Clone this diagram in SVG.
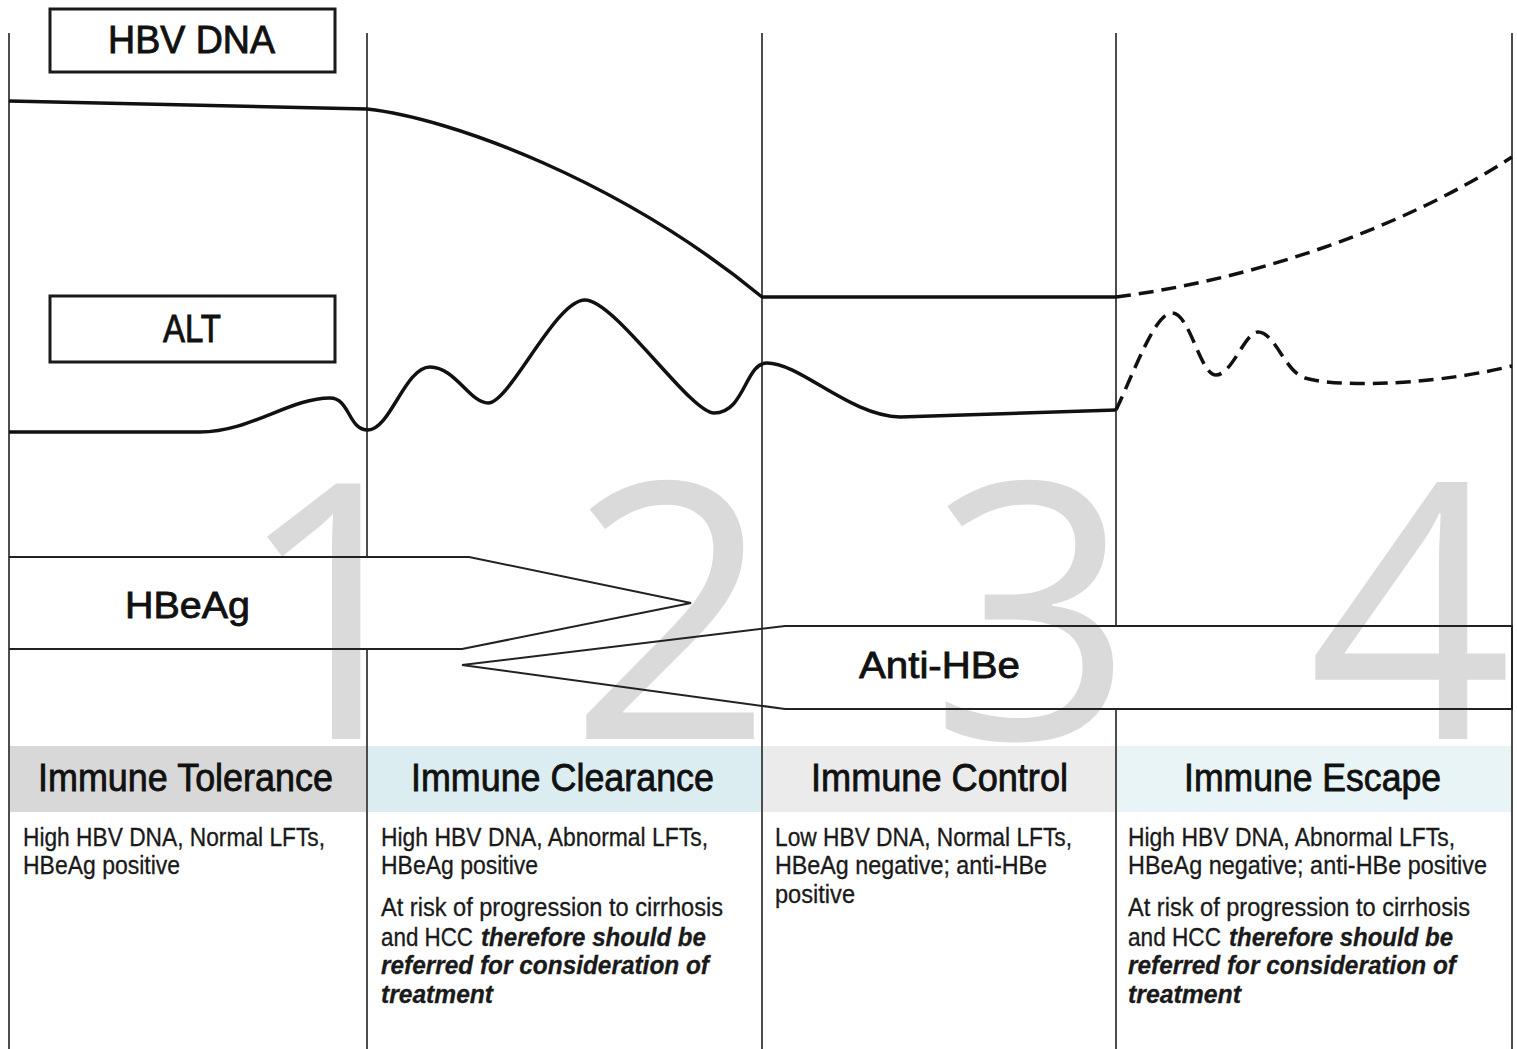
<svg xmlns="http://www.w3.org/2000/svg" width="1517" height="1049" viewBox="0 0 1517 1049">
<style>
.bg{fill:#ffffff}
.vline{stroke:#4d4d4d;stroke-width:2;fill:none}
.digit{font-family:"Open Sans","Liberation Sans",sans-serif;font-size:358px;fill:#dadada}
.band{fill:none;stroke:#222;stroke-width:2;stroke-linejoin:miter}
.box{fill:#fff;stroke:#1a1a1a;stroke-width:3}
.lbl{font-family:"Liberation Sans",Arial,sans-serif;font-size:38px;fill:#111;stroke:#111;stroke-width:0.9}
.blbl{font-family:"Liberation Sans",Arial,sans-serif;font-size:36px;fill:#111;stroke:#111;stroke-width:0.8}
.head{font-family:"Liberation Sans",Arial,sans-serif;font-size:38px;fill:#111;stroke:#111;stroke-width:0.8}
.body{font-family:"Liberation Sans",Arial,sans-serif;font-size:25px;fill:#1a1a1a;stroke:#1a1a1a;stroke-width:0.3}
.bi{font-weight:bold;font-style:italic}
.curve{fill:none;stroke:#111;stroke-width:3.5;stroke-linecap:butt;stroke-linejoin:round}
.dash{stroke-dasharray:15 8}
</style>
<rect class="bg" x="0" y="0" width="1517" height="1049"/>

<g id="phase-numbers">
<text class="digit" x="337" y="739" text-anchor="middle">1</text>
<text class="digit" x="671" y="739" text-anchor="middle">2</text>
<text class="digit" x="1032" y="739" text-anchor="middle">3</text>
<text class="digit" x="1410" y="739" text-anchor="middle">4</text>
</g>

<g id="header-bands">
<rect x="9" y="746" width="358" height="66" fill="#d8d8d8"/>
<rect x="367" y="746" width="395" height="66" fill="#dbedf1"/>
<rect x="762" y="746" width="354" height="66" fill="#ebebeb"/>
<rect x="1116" y="746" width="396" height="66" fill="#e8f4f5"/>
</g>

<g id="dividers">
<line class="vline" x1="9" y1="33" x2="9" y2="1049"/>
<line class="vline" x1="367" y1="33" x2="367" y2="557"/>
<line class="vline" x1="367" y1="649" x2="367" y2="1049"/>
<line class="vline" x1="762" y1="33" x2="762" y2="1049"/>
<line class="vline" x1="1116" y1="33" x2="1116" y2="626"/>
<line class="vline" x1="1116" y1="709" x2="1116" y2="1049"/>
<line class="vline" x1="1512" y1="33" x2="1512" y2="1049"/>
</g>

<g id="hbeag">
<path class="band" d="M9,557 L469,557 L691,603 L462,649 L9,649"/>
<text class="blbl" x="125" y="618" textLength="125" lengthAdjust="spacingAndGlyphs">HBeAg</text>
</g>

<g id="anti-hbe">
<path class="band" d="M1512,626 L785,626 L462,665 L785,709 L1512,709 Z"/>
<text class="blbl" x="859" y="678" textLength="161" lengthAdjust="spacingAndGlyphs">Anti-HBe</text>
</g>

<g id="connectors">
<path id="hbv-dna-curve" class="curve" d="M9,101 L367,109 C450,118 620,180 762,297 L1116,297"/>
<path id="hbv-dna-curve-dashed" class="curve dash" d="M1116,297 C1250,280 1400,230 1512,157"/>
<path id="alt-curve" class="curve" d="M9,432 L200,432 C250,432 290,398 330,398 C350,398 348,430 368,430 C390,430 405,367 430,367 C455,367 470,403 488,403 C510,403 555,300 585,300 C615,300 690,413 714,413 C745,413 745,363 767,363 C800,363 850,416 900,417 L1116,410"/>
<path id="alt-curve-dashed" class="curve dash" d="M1116,410 C1135,370 1155,313 1172,313 C1190,313 1200,375 1216,375 C1232,375 1245,332 1258,332 C1275,332 1285,372 1305,378 C1330,386 1420,388 1512,366"/>
</g>

<g id="hbv-dna-label">
<rect class="box" x="50" y="9" width="285" height="63"/>
<text class="lbl" x="108" y="53" textLength="167" lengthAdjust="spacingAndGlyphs">HBV DNA</text>
</g>

<g id="alt-label">
<rect class="box" x="50" y="296" width="285" height="66"/>
<text class="lbl" x="163" y="342" textLength="58" lengthAdjust="spacingAndGlyphs">ALT</text>
</g>

<g id="phase-immune-tolerance">
<text class="head" x="38" y="791" textLength="295" lengthAdjust="spacingAndGlyphs">Immune Tolerance</text>
<text class="body" x="23" y="846" textLength="302" lengthAdjust="spacingAndGlyphs">High HBV DNA, Normal LFTs,</text>
<text class="body" x="23" y="874" textLength="157" lengthAdjust="spacingAndGlyphs">HBeAg positive</text>
</g>

<g id="phase-immune-clearance">
<text class="head" x="411" y="791" textLength="303" lengthAdjust="spacingAndGlyphs">Immune Clearance</text>
<text class="body" x="381" y="846" textLength="327" lengthAdjust="spacingAndGlyphs">High HBV DNA, Abnormal LFTs,</text>
<text class="body" x="381" y="874" textLength="157" lengthAdjust="spacingAndGlyphs">HBeAg positive</text>
<text class="body" x="381" y="916" textLength="342" lengthAdjust="spacingAndGlyphs">At risk of progression to cirrhosis</text>
<text class="body" x="381" y="946" textLength="92" lengthAdjust="spacingAndGlyphs">and HCC</text>
<text class="body bi" x="481" y="946" textLength="225" lengthAdjust="spacingAndGlyphs">therefore should be</text>
<text class="body bi" x="381" y="974" textLength="328" lengthAdjust="spacingAndGlyphs">referred for consideration of</text>
<text class="body bi" x="381" y="1003" textLength="112" lengthAdjust="spacingAndGlyphs">treatment</text>
</g>

<g id="phase-immune-control">
<text class="head" x="811" y="791" textLength="257" lengthAdjust="spacingAndGlyphs">Immune Control</text>
<text class="body" x="775" y="846" textLength="297" lengthAdjust="spacingAndGlyphs">Low HBV DNA, Normal LFTs,</text>
<text class="body" x="775" y="874" textLength="272" lengthAdjust="spacingAndGlyphs">HBeAg negative; anti-HBe</text>
<text class="body" x="775" y="903" textLength="80" lengthAdjust="spacingAndGlyphs">positive</text>
</g>

<g id="phase-immune-escape">
<text class="head" x="1184" y="791" textLength="257" lengthAdjust="spacingAndGlyphs">Immune Escape</text>
<text class="body" x="1128" y="846" textLength="327" lengthAdjust="spacingAndGlyphs">High HBV DNA, Abnormal LFTs,</text>
<text class="body" x="1128" y="874" textLength="359" lengthAdjust="spacingAndGlyphs">HBeAg negative; anti-HBe positive</text>
<text class="body" x="1128" y="916" textLength="342" lengthAdjust="spacingAndGlyphs">At risk of progression to cirrhosis</text>
<text class="body" x="1128" y="946" textLength="93" lengthAdjust="spacingAndGlyphs">and HCC</text>
<text class="body bi" x="1229" y="946" textLength="224" lengthAdjust="spacingAndGlyphs">therefore should be</text>
<text class="body bi" x="1128" y="974" textLength="328" lengthAdjust="spacingAndGlyphs">referred for consideration of</text>
<text class="body bi" x="1128" y="1003" textLength="113" lengthAdjust="spacingAndGlyphs">treatment</text>
</g>
</svg>
